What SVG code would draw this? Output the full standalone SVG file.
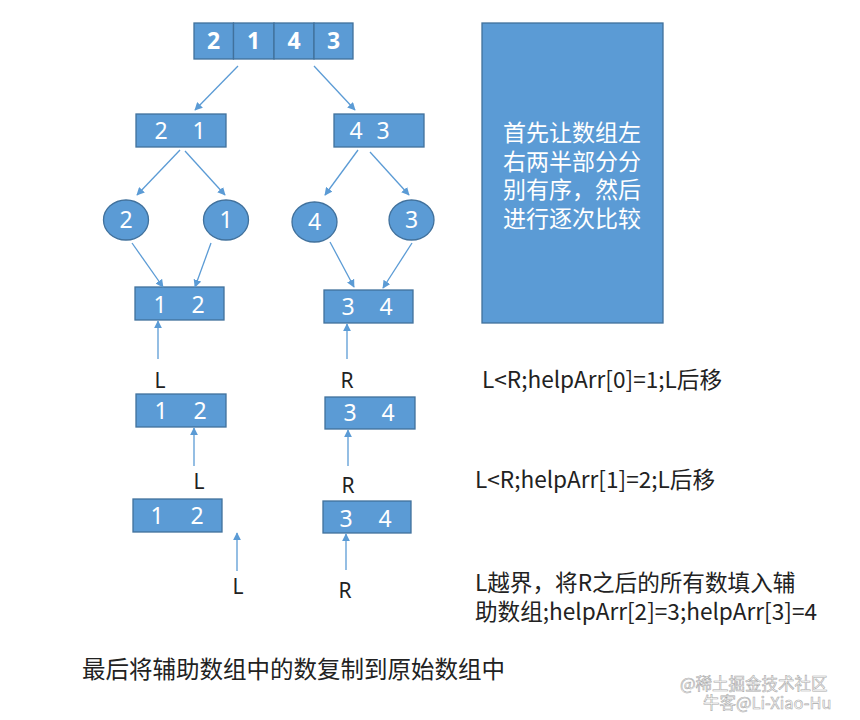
<svg xmlns="http://www.w3.org/2000/svg" width="860" height="720" viewBox="0 0 860 720">
<defs>
<marker id="ah" viewBox="0 0 10 10" refX="9" refY="5" markerWidth="8" markerHeight="8" markerUnits="userSpaceOnUse" orient="auto">
<path d="M0,0 L10,5 L0,10 z" fill="#5B9BD5"/>
</marker>
<style>
.box{fill:#5B9BD5;stroke:#41719C;stroke-width:1.3}
.num{fill:#fff;font-family:"Noto Sans","Noto Sans CJK SC",sans-serif;font-size:23px;text-anchor:middle}
.big{font-weight:bold}
.lbl{fill:#222;font-family:"Noto Sans","Noto Sans CJK SC",sans-serif;font-size:21px;text-anchor:middle}
.txt{fill:#222;font-family:"Noto Sans CJK SC",sans-serif;font-size:22.6px}
.cj{fill:#222;font-family:"Noto Sans CJK SC",sans-serif;font-size:23.5px}
.btxt{fill:#fff;font-family:"Noto Sans CJK SC",sans-serif;font-size:23px;text-anchor:middle}
.wm{fill:#fff;stroke:#aaa;stroke-width:0.6;font-family:"Noto Sans CJK SC",sans-serif;font-size:16.5px}
.c line{stroke:#5B9BD5;stroke-width:1.3;marker-end:url(#ah)}
</style>
</defs>
<rect width="860" height="720" fill="#fff"/>
<g id="arr">
<rect class="box" x="194" y="23" width="39.5" height="36"/>
<rect class="box" x="233.5" y="23" width="40.5" height="36"/>
<rect class="box" x="274" y="23" width="40" height="36"/>
<rect class="box" x="314" y="23" width="39" height="36"/>
<text class="num big" x="213.5" y="49">2</text>
<text class="num big" x="253.5" y="49">1</text>
<text class="num big" x="294" y="49">4</text>
<text class="num big" x="333.5" y="49">3</text>
</g>
<g id="b21"><rect class="box" x="136" y="114" width="90" height="33"/><text class="num" x="161" y="139">2</text><text class="num" x="199" y="139">1</text></g>
<g id="b43"><rect class="box" x="334" y="114" width="90" height="33"/><text class="num" x="356" y="139">4</text><text class="num" x="383" y="139">3</text></g>
<g id="c2"><ellipse class="box" cx="126" cy="220" rx="22.5" ry="20"/><text class="num" x="126" y="228">2</text></g>
<g id="c1"><ellipse class="box" cx="226" cy="220" rx="22.5" ry="20"/><text class="num" x="226" y="228">1</text></g>
<g id="c4"><ellipse class="box" cx="314.5" cy="222" rx="22.5" ry="20"/><text class="num" x="314.5" y="230">4</text></g>
<g id="c3"><ellipse class="box" cx="411.5" cy="220" rx="22.5" ry="20"/><text class="num" x="411.5" y="228">3</text></g>
<g id="r1l"><rect class="box" x="135" y="287" width="89" height="33"/><text class="num" x="160" y="313">1</text><text class="num" x="198" y="313">2</text></g>
<g id="r1r"><rect class="box" x="324" y="290" width="89" height="33"/><text class="num" x="348" y="315">3</text><text class="num" x="386" y="315">4</text></g>
<g id="r2l"><rect class="box" x="136" y="394" width="90" height="33"/><text class="num" x="161" y="419">1</text><text class="num" x="200" y="419">2</text></g>
<g id="r2r"><rect class="box" x="325" y="397" width="90" height="32"/><text class="num" x="350" y="421">3</text><text class="num" x="388" y="421">4</text></g>
<g id="r3l"><rect class="box" x="133" y="499" width="89" height="33"/><text class="num" x="157" y="524">1</text><text class="num" x="197" y="524">2</text></g>
<g id="r3r"><rect class="box" x="323" y="501" width="88" height="32"/><text class="num" x="346" y="527">3</text><text class="num" x="385" y="527">4</text></g>
<g id="labels">
<text class="lbl" x="160" y="388">L</text>
<text class="lbl" x="347" y="388">R</text>
<text class="lbl" x="199" y="489">L</text>
<text class="lbl" x="348" y="493">R</text>
<text class="lbl" x="238" y="594">L</text>
<text class="lbl" x="345" y="598">R</text>
</g>
<g id="note">
<rect class="box" x="482" y="23" width="181" height="300"/>
<text class="btxt"><tspan x="572" y="141">首先让数组左</tspan><tspan x="572" y="169.5">右两半部分分</tspan><tspan x="572" y="198">别有序，然后</tspan><tspan x="572" y="226.5">进行逐次比较</tspan></text>
</g>
<g id="steps">
<text class="txt" x="482" y="388">L&lt;R;helpArr[0]=1;L后移</text>
<text class="txt" x="475" y="488">L&lt;R;helpArr[1]=2;L后移</text>
<text class="txt"><tspan x="475" y="591">L越界，将R之后的所有数填入辅</tspan><tspan x="475" y="620">助数组;helpArr[2]=3;helpArr[3]=4</tspan></text>
<text class="cj" x="82" y="678">最后将辅助数组中的数复制到原始数组中</text>
</g>
<g id="watermark">
<text class="wm"><tspan x="680" y="690">@稀土掘金技术社区</tspan><tspan x="703" y="709">牛客@Li-Xiao-Hu</tspan></text>
</g>
<g class="c" id="connectors">
<line x1="238" y1="66" x2="195" y2="110"/>
<line x1="314" y1="66" x2="355" y2="110"/>
<line x1="180" y1="150" x2="137" y2="195"/>
<line x1="185" y1="151" x2="225" y2="195"/>
<line x1="358" y1="150" x2="325" y2="195"/>
<line x1="370" y1="152" x2="409" y2="195"/>
<line x1="132" y1="243" x2="163" y2="287"/>
<line x1="211" y1="243" x2="195" y2="287"/>
<line x1="330" y1="242" x2="354" y2="287"/>
<line x1="412" y1="243" x2="383" y2="288"/>
<line x1="158" y1="359" x2="158" y2="321"/>
<line x1="347" y1="359" x2="347" y2="324"/>
<line x1="194" y1="466" x2="194" y2="428"/>
<line x1="348" y1="466" x2="348" y2="430"/>
<line x1="237" y1="571" x2="237" y2="533"/>
<line x1="346" y1="570" x2="346" y2="534"/>
</g>
</svg>
